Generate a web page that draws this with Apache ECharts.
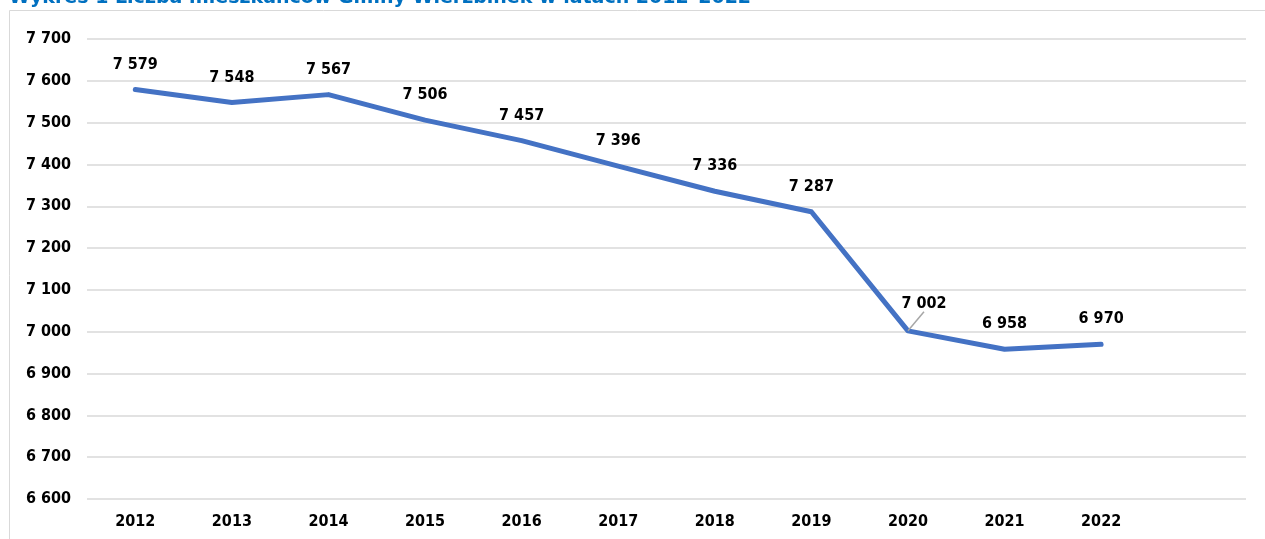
<!DOCTYPE html>
<html>
<head>
<meta charset="utf-8">
<script src="https://cdn.jsdelivr.net/npm/echarts@6/dist/echarts.min.js"></script>
<style>
  html, body { margin: 0; padding: 0; background: #fff; }
  #chart { width: 1265px; height: 539px; }
</style>
</head>
<body>
<div id="chart"></div>
<script>
  // dane z wykresu
  var years = ['2012', '2013', '2014', '2015', '2016', '2017', '2018', '2019', '2020', '2021', '2022'];
  var residents = [7579, 7548, 7567, 7506, 7457, 7396, 7336, 7287, 7002, 6958, 6970];
  var titleText = 'Wykres 1 Liczba mieszkańców Gminy Wierzbinek w latach 2012–2022';

  var FONT = "'DejaVu Sans Condensed', 'DejaVu Sans', sans-serif";

  function fmt(v) {
    return String(v).replace(/\B(?=(\d{3})+(?!\d))/g, ' ');
  }

  // etykieta 2020 przesunieta w prawo z linia odniesienia
  var seriesData = residents.map(function (v, i) {
    if (i === 8) {
      return { value: v, labelLine: { show: true } };
    }
    return v;
  });

  var myChart = echarts.init(document.getElementById('chart'));
  myChart.setOption({
    animation: false,
    title: {
      text: titleText,
      left: 4,
      top: -16,
      textStyle: {
        color: '#0070C0',
        fontFamily: "'DejaVu Sans', sans-serif",
        fontWeight: 'bold',
        fontSize: 19
      }
    },
    graphic: [{
      type: 'rect',
      shape: { x: 9.5, y: 10.5, width: 1400, height: 700 },
      style: { fill: 'none', stroke: '#D9D9D9', lineWidth: 1 },
      silent: true
    }],
    grid: { left: 87, right: 19, top: 39, bottom: 40 },
    xAxis: {
      type: 'category',
      boundaryGap: true,
      data: years.concat(['']),   // pusta kategoria po prawej jak w Excelu
      axisLine: { show: false },
      axisTick: { show: false },
      axisLabel: {
        margin: 15,
        color: '#000',
        fontFamily: FONT,
        fontWeight: 'bold',
        fontSize: 16
      }
    },
    yAxis: {
      type: 'value',
      min: 6600,
      max: 7700,
      interval: 100,
      axisLine: { show: false },
      axisTick: { show: false },
      splitLine: { lineStyle: { color: '#D9D9D9', width: 1.5 } },
      axisLabel: {
        margin: 16,
        color: '#000',
        fontFamily: FONT,
        fontWeight: 'bold',
        fontSize: 16,
        formatter: function (v) { return fmt(v); }
      }
    },
    series: [{
      type: 'line',
      data: seriesData,
      showSymbol: true,
      symbol: 'circle',
      symbolSize: 0.1,
      lineStyle: { color: '#4472C4', width: 5, cap: 'round', join: 'round' },
      itemStyle: { color: '#4472C4' },
      label: {
        show: true,
        position: 'top',
        distance: 17,
        color: '#000',
        fontFamily: FONT,
        fontWeight: 'bold',
        fontSize: 16,
        formatter: function (p) { return fmt(p.value); }
      },
      labelLine: {
        show: false,
        lineStyle: { color: '#A6A6A6', width: 1.5 }
      },
      labelLayout: function (params) {
        if (params.dataIndex === 8) {
          return { dx: 16, dy: -2 };
        }
        return {};
      }
    }]
  });
  window.onresize = myChart.resize;
</script>
</body>
</html>
